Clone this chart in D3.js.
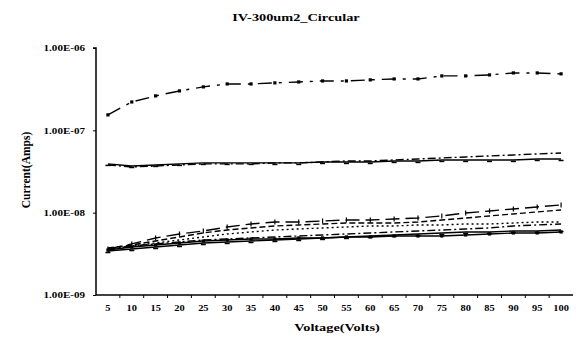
<!DOCTYPE html>
<html><head><meta charset="utf-8">
<script src="https://cdn.jsdelivr.net/npm/d3@7"></script>
<style>body{margin:0;background:#fff}svg{display:block}text{font-family:"Liberation Serif","Times New Roman",serif;font-weight:bold;fill:#000}</style>
</head><body>
<svg id="c" width="576" height="337"></svg>
<script>
const categories = ["5","10","15","20","25","30","35","40","45","50","55","60","65","70","75","80","85","90","95","100"];
const yTickValues = [1e-9, 1e-8, 1e-7, 1e-6];
const yTickLabels = ["1.00E-09","1.00E-08","1.00E-07","1.00E-06"];
const titleText = "IV-300um2_Circular";
const xTitle = "Voltage(Volts)";
const yTitle = "Current(Amps)";

const seriesTop = [1.54e-7,2.21e-7,2.62e-7,3.01e-7,3.37e-7,3.66e-7,3.66e-7,3.77e-7,3.87e-7,3.98e-7,3.98e-7,4.10e-7,4.21e-7,4.21e-7,4.58e-7,4.58e-7,4.71e-7,4.98e-7,4.98e-7,4.85e-7];
const seriesMidA = [3.91e-8,3.69e-8,3.80e-8,3.91e-8,4.02e-8,4.02e-8,4.02e-8,4.02e-8,4.02e-8,4.13e-8,4.13e-8,4.13e-8,4.25e-8,4.25e-8,4.37e-8,4.37e-8,4.37e-8,4.37e-8,4.49e-8,4.49e-8];
const seriesMidB = [3.80e-8,3.59e-8,3.69e-8,3.80e-8,3.91e-8,3.91e-8,3.91e-8,4.02e-8,4.02e-8,4.13e-8,4.25e-8,4.25e-8,4.37e-8,4.49e-8,4.62e-8,4.75e-8,4.89e-8,5.02e-8,5.17e-8,5.31e-8];
const seriesLow1 = [3.62e-9,4.17e-9,4.93e-9,5.51e-9,5.99e-9,6.70e-9,7.29e-9,7.71e-9,7.71e-9,7.93e-9,8.15e-9,8.15e-9,8.38e-9,8.62e-9,9.12e-9,9.92e-9,10.49e-9,11.09e-9,11.73e-9,12.41e-9];
const seriesLow2 = [3.73e-9,4.05e-9,4.53e-9,5.07e-9,5.67e-9,6.16e-9,6.52e-9,6.89e-9,7.09e-9,7.29e-9,7.49e-9,7.49e-9,7.49e-9,7.71e-9,8.15e-9,8.62e-9,9.12e-9,9.64e-9,10.20e-9,10.78e-9];
const seriesLow3 = [3.52e-9,3.94e-9,4.28e-9,4.66e-9,5.07e-9,5.51e-9,5.83e-9,6.16e-9,6.34e-9,6.52e-9,6.70e-9,6.89e-9,6.89e-9,7.09e-9,7.09e-9,7.29e-9,7.29e-9,7.49e-9,7.71e-9,7.71e-9];
const seriesLow4 = [3.52e-9,3.83e-9,4.05e-9,4.28e-9,4.53e-9,4.66e-9,4.79e-9,4.79e-9,4.93e-9,4.93e-9,5.07e-9,5.07e-9,5.21e-9,5.21e-9,5.21e-9,5.36e-9,5.51e-9,5.67e-9,5.67e-9,5.83e-9];
const seriesLow5 = [3.42e-9,3.62e-9,3.83e-9,4.05e-9,4.28e-9,4.41e-9,4.53e-9,4.66e-9,4.79e-9,4.93e-9,5.07e-9,5.21e-9,5.36e-9,5.51e-9,5.67e-9,5.83e-9,5.83e-9,5.99e-9,5.99e-9,6.16e-9];
const seriesLow6 = [3.62e-9,3.94e-9,4.17e-9,4.41e-9,4.66e-9,4.79e-9,4.93e-9,5.07e-9,5.21e-9,5.36e-9,5.51e-9,5.67e-9,5.83e-9,5.99e-9,6.16e-9,6.34e-9,6.52e-9,6.89e-9,7.09e-9,7.29e-9];

const svg = d3.select("#c");
const L = 96, R = 573, T = 48, B = 295;
const x = d3.scaleBand().domain(categories).range([L, R]).padding(0);
const y = d3.scaleLog().domain([1e-9, 1e-6]).range([B, T]);
const cx = c => x(c) + x.bandwidth() / 2;

function stretch(sel, k) {
  sel.each(function () {
    const w = this.getComputedTextLength();
    this.setAttribute("textLength", w * k);
    this.setAttribute("lengthAdjust", "spacingAndGlyphs");
  });
}

const styles = [
  {data: seriesTop, dash: "14,7,3,7", marker: "sq"},
  {data: seriesMidA, dash: null, marker: "dash"},
  {data: seriesMidB, dash: "8,3,2,3", marker: null},
  {data: seriesLow1, dash: "14,6", marker: "plus"},
  {data: seriesLow2, dash: "6,3", marker: null},
  {data: seriesLow3, dash: "2,3", marker: null},
  {data: seriesLow4, dash: null, marker: "sq"},
  {data: seriesLow5, dash: null, marker: "dash"},
  {data: seriesLow6, dash: "8,3,2,3", marker: null}
];
const line = d3.line().x((d, i) => cx(categories[i])).y(d => y(d));
styles.forEach(s => {
  svg.append("path").attr("d", line(s.data)).attr("fill", "none")
    .attr("stroke", "#000").attr("stroke-width", 1.4)
    .attr("stroke-dasharray", s.dash);
  const g = svg.append("g");
  s.data.forEach((v, i) => {
    const px = cx(categories[i]), py = y(v);
    if (s.marker === "sq") g.append("rect").attr("x", px - 1.6).attr("y", py - 1.6).attr("width", 3.2).attr("height", 3.2).attr("fill", "#000");
    else if (s.marker === "dash") g.append("line").attr("x1", px - 2.5).attr("x2", px + 2.5).attr("y1", py + 1.5).attr("y2", py + 1.5).attr("stroke", "#000").attr("stroke-width", 1.5);
    else if (s.marker === "plus") g.append("line").attr("x1", px).attr("x2", px).attr("y1", py - 2.5).attr("y2", py + 2.5).attr("stroke", "#000").attr("stroke-width", 1.2);
  });
});

const yAxis = d3.axisLeft(y).tickValues(yTickValues).tickFormat((d, i) => yTickLabels[i]).tickSize(3).tickPadding(8);
const gy = svg.append("g").attr("transform", `translate(${L},0)`).call(yAxis);
gy.select(".domain").attr("stroke-width", 1.5).attr("d", `M-3,${T}H0V${B}`);
gy.selectAll("text").attr("font-size", 8.5).attr("font-family", '"Liberation Serif","Times New Roman",serif').attr("font-weight", "bold");
stretch(gy.selectAll("text"), 1.3);

const xAxis = d3.axisBottom(x).tickSize(0).tickPadding(10);
const gx = svg.append("g").attr("transform", `translate(0,${B})`).call(xAxis);
gx.select(".domain").attr("stroke-width", 1.5).attr("d", `M${L},0H${R}`);
gx.selectAll("text").attr("font-size", 8).attr("font-family", '"Liberation Serif","Times New Roman",serif').attr("font-weight", "bold");
stretch(gx.selectAll("text"), 1.3);
gx.selectAll(".bnd").data(categories.slice(1)).enter().append("line")
  .attr("x1", d => x(d)).attr("x2", d => x(d)).attr("y1", 0).attr("y2", 3).attr("stroke", "#000");

const t = svg.append("text").attr("x", 296).attr("y", 21).attr("text-anchor", "middle").attr("font-size", 11).text(titleText);
stretch(t, 1.3);
const xt = svg.append("text").attr("x", 337).attr("y", 331).attr("text-anchor", "middle").attr("font-size", 11).text(xTitle);
stretch(xt, 1.3);
svg.append("text").attr("transform", "translate(30,170) rotate(-90)").attr("text-anchor", "middle").attr("font-size", 11.5).text(yTitle);
</script>
</body></html>
